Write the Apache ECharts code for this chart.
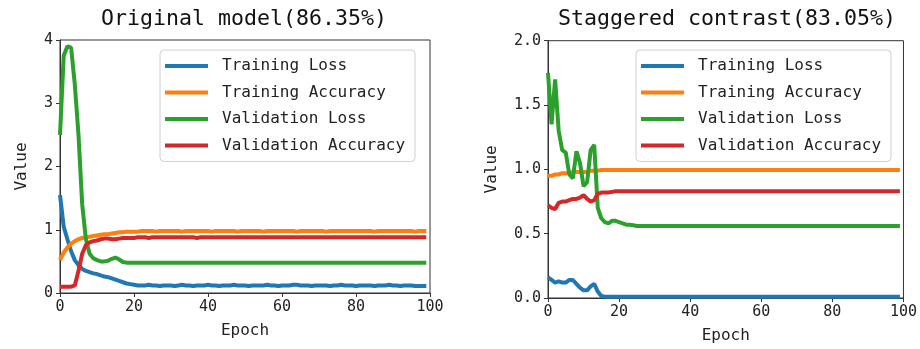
<!DOCTYPE html>
<html><head><meta charset="utf-8">
<script src="https://cdn.jsdelivr.net/npm/echarts@6/dist/echarts.min.js"></script>
<style>html,body{margin:0;padding:0;background:#fff}#c{width:920px;height:349px}</style>
</head><body><div id="c"></div>
<script>
const seriesNames = ['Training Loss','Training Accuracy','Validation Loss','Validation Accuracy'];
const titles = ['Original model(86.35%)','Staggered contrast(83.05%)'];
const xTicks = [0,20,40,60,80,100];

// Original model
const trainLoss1 = [1.55,1.05,0.85,0.66,0.52,0.44,0.38,0.35,0.33,0.31,
0.30,0.28,0.26,0.25,0.23,0.21,0.19,0.17,0.15,0.14,
0.13,0.12,0.12,0.12,0.13,0.12,0.12,0.11,0.12,0.12,
0.12,0.11,0.12,0.13,0.12,0.12,0.11,0.12,0.12,0.12,
0.13,0.12,0.12,0.11,0.12,0.12,0.12,0.13,0.12,0.12,
0.12,0.11,0.12,0.12,0.12,0.12,0.13,0.12,0.12,0.11,
0.12,0.12,0.12,0.13,0.13,0.12,0.12,0.12,0.11,0.12,
0.12,0.12,0.12,0.11,0.12,0.12,0.13,0.12,0.12,0.12,
0.11,0.12,0.12,0.12,0.12,0.11,0.12,0.12,0.12,0.13,
0.12,0.12,0.11,0.12,0.12,0.12,0.11,0.11,0.11,0.11];
const trainAcc1 = [0.52,0.64,0.72,0.78,0.82,0.85,0.87,0.88,0.89,0.90,
0.91,0.92,0.93,0.93,0.94,0.95,0.96,0.96,0.97,0.97,
0.97,0.97,0.98,0.98,0.98,0.98,0.97,0.98,0.98,0.98,
0.98,0.98,0.98,0.97,0.98,0.98,0.98,0.98,0.98,0.98,
0.98,0.97,0.98,0.98,0.98,0.98,0.98,0.98,0.97,0.98,
0.98,0.98,0.98,0.98,0.98,0.97,0.98,0.98,0.98,0.98,
0.98,0.98,0.98,0.98,0.97,0.98,0.98,0.98,0.98,0.98,
0.98,0.98,0.97,0.98,0.98,0.98,0.98,0.98,0.98,0.98,
0.98,0.98,0.98,0.98,0.98,0.97,0.98,0.98,0.98,0.98,
0.98,0.98,0.98,0.98,0.98,0.98,0.97,0.98,0.98,0.98];
const valLoss1 = [2.5,3.75,3.9,3.88,3.3,2.5,1.4,0.85,0.62,0.55,
0.52,0.50,0.50,0.51,0.54,0.56,0.53,0.49,0.48,0.48,
0.48,0.48,0.48,0.48,0.48,0.48,0.48,0.48,0.48,0.48,
0.48,0.48,0.48,0.48,0.48,0.48,0.48,0.48,0.48,0.48,
0.48,0.48,0.48,0.48,0.48,0.48,0.48,0.48,0.48,0.48,
0.48,0.48,0.48,0.48,0.48,0.48,0.48,0.48,0.48,0.48,
0.48,0.48,0.48,0.48,0.48,0.48,0.48,0.48,0.48,0.48,
0.48,0.48,0.48,0.48,0.48,0.48,0.48,0.48,0.48,0.48,
0.48,0.48,0.48,0.48,0.48,0.48,0.48,0.48,0.48,0.48,
0.48,0.48,0.48,0.48,0.48,0.48,0.48,0.48,0.48,0.48];
const valAcc1 = [0.10,0.10,0.10,0.10,0.12,0.35,0.62,0.76,0.80,0.82,
0.83,0.85,0.86,0.86,0.85,0.85,0.86,0.87,0.87,0.87,
0.87,0.88,0.88,0.88,0.87,0.88,0.88,0.88,0.88,0.88,
0.88,0.88,0.88,0.88,0.88,0.88,0.88,0.87,0.88,0.88,
0.88,0.88,0.88,0.88,0.88,0.88,0.88,0.88,0.88,0.88,
0.88,0.88,0.88,0.88,0.88,0.88,0.88,0.88,0.88,0.88,
0.88,0.88,0.88,0.88,0.88,0.88,0.88,0.88,0.88,0.88,
0.88,0.88,0.88,0.88,0.88,0.88,0.88,0.88,0.88,0.88,
0.88,0.88,0.88,0.88,0.88,0.88,0.88,0.88,0.88,0.88,
0.88,0.88,0.88,0.88,0.88,0.88,0.88,0.88,0.88,0.88];

// Staggered contrast
const trainLoss2 = [0.16,0.14,0.12,0.13,0.12,0.12,0.14,0.14,0.11,0.08,
0.06,0.06,0.09,0.11,0.05,0.015,0.01,0.01,0.01,0.01,
0.01,0.01,0.01,0.01,0.01,0.01,0.01,0.01,0.01,0.01,
0.01,0.01,0.01,0.01,0.01,0.01,0.01,0.01,0.01,0.01,
0.01,0.01,0.01,0.01,0.01,0.01,0.01,0.01,0.01,0.01,
0.01,0.01,0.01,0.01,0.01,0.01,0.01,0.01,0.01,0.01,
0.01,0.01,0.01,0.01,0.01,0.01,0.01,0.01,0.01,0.01,
0.01,0.01,0.01,0.01,0.01,0.01,0.01,0.01,0.01,0.01,
0.01,0.01,0.01,0.01,0.01,0.01,0.01,0.01,0.01,0.01,
0.01,0.01,0.01,0.01,0.01,0.01,0.01,0.01,0.01,0.01];
const trainAcc2 = [0.95,0.95,0.96,0.96,0.97,0.97,0.97,0.98,0.98,0.98,
0.98,0.98,0.99,0.99,0.99,0.995,0.995,0.995,0.995,0.995,
0.995,0.995,0.995,0.995,0.995,0.995,0.995,0.995,0.995,0.995,
0.995,0.995,0.995,0.995,0.995,0.995,0.995,0.995,0.995,0.995,
0.995,0.995,0.995,0.995,0.995,0.995,0.995,0.995,0.995,0.995,
0.995,0.995,0.995,0.995,0.995,0.995,0.995,0.995,0.995,0.995,
0.995,0.995,0.995,0.995,0.995,0.995,0.995,0.995,0.995,0.995,
0.995,0.995,0.995,0.995,0.995,0.995,0.995,0.995,0.995,0.995,
0.995,0.995,0.995,0.995,0.995,0.995,0.995,0.995,0.995,0.995,
0.995,0.995,0.995,0.995,0.995,0.995,0.995,0.995,0.995,0.995];
const valLoss2 = [1.75,1.35,1.70,1.30,1.15,1.13,0.96,0.93,1.14,1.05,
0.87,0.90,1.15,1.19,0.70,0.62,0.59,0.58,0.60,0.60,
0.59,0.58,0.57,0.57,0.565,0.56,0.56,0.56,0.56,0.56,
0.56,0.56,0.56,0.56,0.56,0.56,0.56,0.56,0.56,0.56,
0.56,0.56,0.56,0.56,0.56,0.56,0.56,0.56,0.56,0.56,
0.56,0.56,0.56,0.56,0.56,0.56,0.56,0.56,0.56,0.56,
0.56,0.56,0.56,0.56,0.56,0.56,0.56,0.56,0.56,0.56,
0.56,0.56,0.56,0.56,0.56,0.56,0.56,0.56,0.56,0.56,
0.56,0.56,0.56,0.56,0.56,0.56,0.56,0.56,0.56,0.56,
0.56,0.56,0.56,0.56,0.56,0.56,0.56,0.56,0.56,0.56];
const valAcc2 = [0.72,0.70,0.69,0.74,0.75,0.75,0.76,0.77,0.77,0.78,
0.80,0.77,0.75,0.76,0.81,0.82,0.82,0.82,0.825,0.83,
0.83,0.83,0.83,0.83,0.83,0.83,0.83,0.83,0.83,0.83,
0.83,0.83,0.83,0.83,0.83,0.83,0.83,0.83,0.83,0.83,
0.83,0.83,0.83,0.83,0.83,0.83,0.83,0.83,0.83,0.83,
0.83,0.83,0.83,0.83,0.83,0.83,0.83,0.83,0.83,0.83,
0.83,0.83,0.83,0.83,0.83,0.83,0.83,0.83,0.83,0.83,
0.83,0.83,0.83,0.83,0.83,0.83,0.83,0.83,0.83,0.83,
0.83,0.83,0.83,0.83,0.83,0.83,0.83,0.83,0.83,0.83,
0.83,0.83,0.83,0.83,0.83,0.83,0.83,0.83,0.83,0.83];

const colors = ['#1f77b4','#ff7f0e','#2ca02c','#d62728'];
const FONT = "'DejaVu Sans Mono', monospace";
const pairs = arr => arr.map((v,i)=>[i,v]);

const chart = echarts.init(document.getElementById('c'), null, {renderer:'canvas'});
const grids = [
  {left:60, top:40, width:370, height:253},
  {left:548, top:40.7, width:356, height:260}
];
function xAxis(gi){
  return {type:'value', gridIndex:gi, min:0, max:100, interval:20,
    name:'Epoch', nameLocation:'middle', nameGap:30,
    nameTextStyle:{fontFamily:FONT, fontSize:16, color:'#222'},
    axisLine:{show:true, onZero:false, lineStyle:{color:'#333', width:1}},
    axisTick:{show:true, inside:false, length:4, lineStyle:{color:'#333'}},
    axisLabel:{fontFamily:FONT, fontSize:15, color:'#222', margin:7},
    splitLine:{show:false}};
}
function yAxis(gi, max, interval, gap, fmt){
  return {type:'value', gridIndex:gi, min:0, max:max, interval:interval,
    name:'Value', nameLocation:'middle', nameGap:gap, nameRotate:90,
    nameTextStyle:{fontFamily:FONT, fontSize:16, color:'#222'},
    axisLine:{show:true, onZero:false, lineStyle:{color:'#333', width:1}},
    axisTick:{show:true, inside:false, length:4, lineStyle:{color:'#333'}},
    axisLabel:{fontFamily:FONT, fontSize:15, color:'#222', margin:7, formatter:fmt},
    splitLine:{show:false}};
}
const data1 = [trainLoss1, trainAcc1, valLoss1, valAcc1];
const data2 = [trainLoss2, trainAcc2, valLoss2, valAcc2];
const series = [];
[data1, data2].forEach((ds, gi)=>{
  ds.forEach((arr, k)=>{
    series.push({type:'line', name:seriesNames[k], xAxisIndex:gi, yAxisIndex:gi,
      data:pairs(arr), showSymbol:false, symbol:'none', smooth:false,
      lineStyle:{color:colors[k], width:4}, itemStyle:{color:colors[k]},
      emphasis:{disabled:true}, z: 2});
  });
});
function legend(left){
  return {orient:'vertical', left:left, top:50, data:seriesNames,
    icon:'rect', itemWidth:43, itemHeight:4, itemGap:6.5,
    padding:[6,10,6,5], borderColor:'#d0d0d0', borderWidth:1, borderRadius:4,
    backgroundColor:'rgba(255,255,255,0.8)', selectedMode:false,
    textStyle:{fontFamily:FONT, fontSize:16, color:'#222', lineHeight:20, padding:[0,0,0,9]}};
}
chart.setOption({
  animation:false,
  backgroundColor:'#fff',
  grid: grids.map(g=>Object.assign({show:true, borderColor:'#333', borderWidth:1, backgroundColor:'transparent'}, g)),
  xAxis:[xAxis(0), xAxis(1)],
  yAxis:[yAxis(0,4,1,30,v=>String(v)), yAxis(1,2,0.5,48,v=>v.toFixed(1))],
  legend:[legend(160), legend(636)],
  graphic:[
    {type:'text', x:244, y:19, style:{text:titles[0], font:"21.6px "+FONT, fill:'#111', textAlign:'center', textVerticalAlign:'middle'}},
    {type:'text', x:727, y:19, style:{text:titles[1], font:"21.6px "+FONT, fill:'#111', textAlign:'center', textVerticalAlign:'middle'}}
  ],
  series: series
});
</script></body></html>
